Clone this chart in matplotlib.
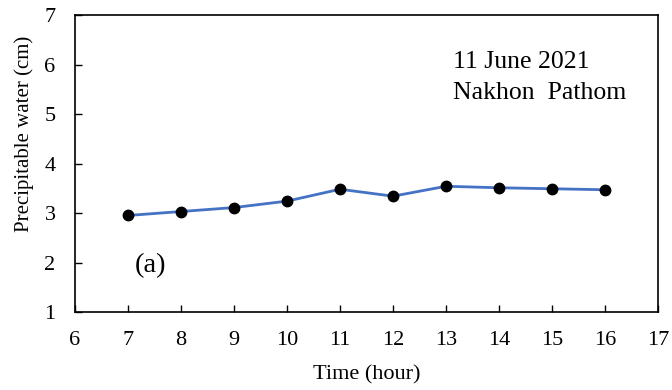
import matplotlib
matplotlib.use("Agg")
import matplotlib.pyplot as plt

plt.rcParams['font.family'] = ['Liberation Serif', 'DejaVu Serif']

hours = [7, 8, 9, 10, 11, 12, 13, 14, 15, 16]
pw = [2.95, 3.03, 3.11, 3.24, 3.48, 3.34, 3.54, 3.51, 3.49, 3.47]
xticks = list(range(6, 18))
yticks = list(range(1, 8))

fig = plt.figure(figsize=(6.72, 3.9), dpi=100)
ax = fig.add_axes([0.1116, 0.2, 0.8676, 0.7615])

ax.plot(hours, pw, color='#4472C4', lw=2, marker='o', ms=7.5,
        mfc='black', mec='black', zorder=3)

ax.set_xlim(6, 17)
ax.set_ylim(1, 7)
ax.set_xticks(xticks)
ax.set_yticks(yticks)
ax.tick_params(direction='in', length=5, width=1, labelsize=16)
ax.tick_params(axis='x', pad=14)
ax.tick_params(axis='y', pad=14)
for s in ax.spines.values():
    s.set_linewidth(1.2)

ax.set_xlabel('Time (hour)', fontsize=16, labelpad=11)
ax.set_ylabel('Precipitable water (cm)', fontsize=15, labelpad=7.5, y=0.599)

ax.text(13.13, 5.93, '11 June 2021', fontsize=18.5, va='baseline')
ax.text(13.13, 5.30, 'Nakhon  Pathom', fontsize=18.5, va='baseline')
ax.text(7.13, 1.81, '(a)', fontsize=20.5, va='baseline')

fig.savefig('out.png', dpi=100)
